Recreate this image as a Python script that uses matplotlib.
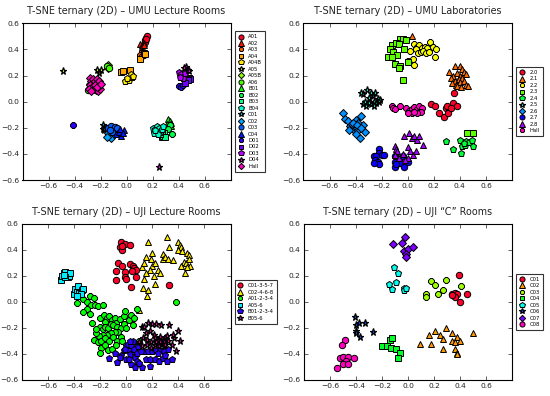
import matplotlib
matplotlib.use("Agg")
import matplotlib.pyplot as plt
import numpy as np

# ---------------- data ----------------
markers_cycle = ['o', '^', '8', 's', 'p', '*', 'D']

umu_lect_labels = ['A01', 'A02', 'A03', 'A04', 'A04B', 'A05', 'A05B', 'A06', 'B01', 'B02',
                   'B03', 'B04', 'C01', 'C02', 'C03', 'C04', 'D01', 'D02', 'D03', 'D04', 'Hall']
umu_lect_points = [
    [(0.15, 0.49), (0.155, 0.50), (0.145, 0.47), (0.14, 0.455), (0.15, 0.48)],
    [(0.10, 0.44), (0.115, 0.43), (0.13, 0.45), (0.12, 0.42), (0.135, 0.43)],
    [(0.12, 0.38), (0.14, 0.375), (0.10, 0.36), (0.135, 0.355), (0.115, 0.35)],
    [(0.10, 0.33), (0.13, 0.37), (0.145, 0.365), (-0.04, 0.23), (-0.03, 0.235), (0.025, 0.24)],
    [(-0.01, 0.16), (0.02, 0.165), (0.04, 0.19), (0.035, 0.215), (0.05, 0.20), (0.0, 0.18)],
    [(-0.49, 0.235), (-0.225, 0.245), (-0.21, 0.22), (-0.20, 0.24)],
    [(-0.145, 0.28), (-0.14, 0.26), (-0.28, 0.135)],
    [(-0.15, 0.27), (-0.135, 0.255), (-0.30, 0.09), (-0.25, 0.12)],
    [(0.32, -0.13), (0.33, -0.15), (0.345, -0.16), (0.34, -0.185), (0.31, -0.17), (0.30, -0.20)],
    [(0.35, -0.25), (0.335, -0.18), (0.32, -0.21)],
    [(0.27, -0.27), (0.28, -0.26), (0.29, -0.24), (0.27, -0.24), (0.295, -0.27), (0.26, -0.25)],
    [(0.20, -0.20), (0.22, -0.21), (0.24, -0.22), (0.21, -0.24), (0.23, -0.19), (0.25, -0.20),
     (0.26, -0.23), (0.24, -0.25), (0.27, -0.21), (0.215, -0.22), (0.28, -0.19)],
    [(-0.18, -0.18), (-0.185, -0.21), (-0.17, -0.22), (-0.16, -0.20), (-0.15, -0.23)],
    [(-0.14, -0.24), (-0.13, -0.26), (-0.12, -0.275), (-0.10, -0.25), (-0.15, -0.27)],
    [(-0.14, -0.20), (-0.12, -0.19), (-0.10, -0.21), (-0.08, -0.22), (-0.11, -0.23), (-0.09, -0.195),
     (-0.07, -0.20), (-0.13, -0.22), (-0.06, -0.24)],
    [(-0.08, -0.25), (-0.06, -0.23), (-0.04, -0.26), (-0.02, -0.22), (-0.05, -0.21), (-0.03, -0.24)],
    [(-0.41, -0.18), (0.40, 0.12), (0.42, 0.115), (0.43, 0.125)],
    [(0.48, 0.18), (0.49, 0.17), (0.47, 0.165), (0.45, 0.14)],
    [(0.40, 0.23), (0.42, 0.21), (0.44, 0.20), (0.43, 0.18), (0.41, 0.19), (0.45, 0.22)],
    [(0.25, -0.50), (0.455, 0.265), (0.47, 0.245), (0.44, 0.255), (0.48, 0.235)],
    [(-0.285, 0.18), (-0.27, 0.16), (-0.26, 0.17), (-0.25, 0.14), (-0.24, 0.155), (-0.23, 0.17),
     (-0.22, 0.15), (-0.21, 0.16), (-0.28, 0.13), (-0.265, 0.11), (-0.25, 0.10), (-0.235, 0.09),
     (-0.22, 0.085), (-0.205, 0.10), (-0.21, 0.12), (-0.29, 0.10), (-0.275, 0.085), (-0.245, 0.125),
     (-0.225, 0.115), (-0.20, 0.135)],
]

umu_lab_labels = ['2.0', '2.1', '2.2', '2.3', '2.4', '2.5', '2.6', '2.7', '2.8', 'Hall']
umu_lab_points = [
    [(0.18, -0.02), (0.21, -0.035), (0.24, -0.09), (0.28, -0.12), (0.29, -0.05), (0.32, -0.06),
     (0.31, -0.09), (0.345, -0.01), (0.38, -0.03), (0.355, 0.07), (0.30, -0.03), (0.33, -0.045)],
    [(0.03, 0.50), (0.36, 0.27), (0.40, 0.27), (0.42, 0.25), (0.43, 0.23), (0.45, 0.21), (0.32, 0.23),
     (0.35, 0.20), (0.38, 0.22), (0.40, 0.20), (0.33, 0.18), (0.36, 0.16), (0.39, 0.17), (0.42, 0.18),
     (0.34, 0.14), (0.37, 0.13), (0.40, 0.15), (0.43, 0.16), (0.45, 0.13), (0.46, 0.12), (0.38, 0.12),
     (0.41, 0.11)],
    [(0.05, 0.44), (0.07, 0.42), (0.09, 0.43), (0.11, 0.41), (0.13, 0.42), (0.15, 0.41), (0.17, 0.46),
     (0.19, 0.42), (0.22, 0.40), (0.06, 0.40), (0.08, 0.37), (0.10, 0.38), (0.12, 0.39), (0.14, 0.37),
     (0.16, 0.38), (0.02, 0.39), (0.21, 0.34), (0.045, 0.28), (0.0, 0.31), (0.04, 0.33)],
    [(-0.06, 0.48), (-0.04, 0.48), (-0.12, 0.43), (-0.09, 0.45), (-0.07, 0.44), (-0.14, 0.40),
     (-0.11, 0.38), (-0.08, 0.36), (-0.03, 0.40), (-0.15, 0.34), (-0.12, 0.34), (-0.10, 0.29),
     (-0.06, 0.27), (-0.065, 0.255), (-0.01, 0.47), (0.0, 0.30), (-0.035, 0.165), (0.455, -0.24),
     (0.50, -0.24)],
    [(0.29, -0.30), (0.35, -0.36), (0.40, -0.29), (0.42, -0.34), (0.44, -0.33), (0.45, -0.30),
     (0.47, -0.31), (0.49, -0.29), (0.50, -0.34), (0.41, -0.39), (0.43, -0.32)],
    [(-0.34, 0.06), (-0.31, 0.09), (-0.28, 0.07), (-0.27, 0.04), (-0.25, 0.07), (-0.23, 0.02),
     (-0.21, 0.01), (-0.22, 0.0), (-0.24, -0.01), (-0.26, 0.0), (-0.28, -0.02), (-0.30, -0.01),
     (-0.32, -0.03), (-0.34, -0.02), (-0.33, 0.0), (-0.30, 0.03), (-0.26, -0.03), (-0.36, 0.07)],
    [(-0.50, -0.09), (-0.48, -0.13), (-0.46, -0.15), (-0.44, -0.19), (-0.42, -0.21), (-0.40, -0.14),
     (-0.38, -0.16), (-0.36, -0.11), (-0.34, -0.18), (-0.33, -0.23), (-0.37, -0.28), (-0.41, -0.18),
     (-0.45, -0.22), (-0.43, -0.17), (-0.39, -0.20), (-0.38, -0.22), (-0.40, -0.25), (-0.42, -0.16),
     (-0.39, -0.18), (-0.36, -0.20)],
    [(-0.22, -0.36), (-0.22, -0.39), (-0.26, -0.42), (-0.24, -0.42), (-0.20, -0.41), (-0.18, -0.41),
     (-0.25, -0.45), (-0.23, -0.46), (-0.22, -0.48), (-0.26, -0.47), (-0.10, -0.42), (-0.08, -0.44),
     (-0.10, -0.46), (-0.07, -0.47), (-0.05, -0.47), (-0.10, -0.50), (-0.03, -0.50), (0.0, -0.46),
     (-0.04, -0.42), (-0.09, -0.48)],
    [(-0.03, -0.26), (0.01, -0.24), (0.03, -0.28), (0.05, -0.26), (0.07, -0.29), (0.09, -0.26),
     (0.12, -0.33), (-0.10, -0.34), (-0.09, -0.36), (-0.08, -0.38), (-0.10, -0.41), (-0.07, -0.43),
     (0.0, -0.35), (0.02, -0.38), (0.04, -0.41), (0.06, -0.38), (-0.04, -0.40), (0.0, -0.43),
     (-0.02, -0.45)],
    [(-0.12, -0.03), (-0.11, -0.05), (-0.10, -0.06), (-0.06, -0.035), (-0.01, -0.05), (0.01, -0.07),
     (0.03, -0.06), (0.05, -0.04), (0.07, -0.06), (0.09, -0.03), (0.11, -0.05), (0.10, -0.08),
     (0.07, -0.09), (0.03, -0.09), (0.0, -0.09), (0.05, -0.08)],
]

uji_lect_labels = ['C01-3-5-7', 'C02-4-6-8', 'A01-2-3-4', 'A05-6', 'B01-2-3-4', 'B05-6']
uji_lect_points = [
    [(-0.04, 0.46), (-0.01, 0.45), (0.03, 0.44), (-0.05, 0.42), (-0.03, 0.40), (-0.03, 0.43),
     (-0.065, 0.30), (-0.03, 0.28), (0.025, 0.29), (0.05, 0.28), (0.06, 0.26), (0.075, 0.25),
     (0.045, 0.24), (-0.075, 0.24), (-0.01, 0.23), (-0.075, 0.17), (-0.01, 0.19), (0.075, 0.19),
     (0.04, 0.115), (0.33, 0.13), (0.0, 0.18)],
    [(0.17, 0.46), (0.31, 0.50), (0.40, 0.46), (0.41, 0.44), (0.42, 0.42), (0.40, 0.40), (0.43, 0.39),
     (0.47, 0.38), (0.48, 0.36), (0.28, 0.37), (0.33, 0.42), (0.20, 0.38), (0.15, 0.35), (0.12, 0.27),
     (0.14, 0.30), (0.19, 0.33), (0.20, 0.28), (0.22, 0.30), (0.24, 0.25), (0.26, 0.22), (0.18, 0.25),
     (0.15, 0.22), (0.21, 0.20), (0.14, 0.18), (0.13, 0.11), (0.17, 0.09), (0.16, 0.05), (0.22, 0.14),
     (0.28, 0.33), (0.30, 0.35), (0.32, 0.33), (0.44, 0.31), (0.46, 0.30), (0.48, 0.33), (0.49, 0.28),
     (0.47, 0.27), (0.45, 0.22), (0.42, 0.28), (0.10, -0.06), (0.36, 0.32)],
    [(-0.38, -0.01), (-0.33, 0.02), (-0.30, 0.0), (-0.28, 0.05), (-0.25, 0.03), (-0.27, -0.02),
     (-0.24, -0.02), (-0.22, -0.03), (-0.30, -0.05), (-0.28, -0.09), (-0.33, -0.08), (-0.20, -0.12),
     (-0.17, -0.10), (-0.15, -0.12), (-0.16, -0.15), (-0.13, -0.11), (-0.11, -0.14), (-0.09, -0.12),
     (-0.08, -0.16), (-0.05, -0.13), (-0.02, -0.11), (0.02, -0.14), (0.04, -0.10), (0.06, -0.12),
     (-0.01, -0.07), (0.08, -0.05), (-0.18, -0.02), (-0.20, -0.19), (-0.18, -0.21), (-0.16, -0.19),
     (-0.14, -0.20), (-0.12, -0.17), (-0.10, -0.18), (-0.07, -0.19), (-0.04, -0.20), (-0.02, -0.17),
     (0.0, -0.20), (-0.06, -0.23), (-0.09, -0.23), (-0.12, -0.24), (-0.15, -0.25), (-0.18, -0.25),
     (-0.21, -0.26), (-0.23, -0.24), (-0.25, -0.29), (-0.22, -0.31), (-0.19, -0.30), (-0.16, -0.28),
     (-0.13, -0.30), (-0.10, -0.27), (-0.07, -0.30), (-0.04, -0.27), (0.05, -0.18), (-0.19, -0.35),
     (-0.16, -0.33), (-0.20, -0.39), (-0.14, -0.37), (-0.11, -0.36), (-0.08, -0.33), (0.10, -0.30),
     (0.38, 0.0), (-0.23, -0.21), (-0.26, -0.16), (0.05, -0.32), (-0.03, -0.30)],
    [(-0.50, 0.17), (-0.49, 0.20), (-0.48, 0.22), (-0.47, 0.23), (-0.46, 0.21), (-0.45, 0.19),
     (-0.44, 0.20), (-0.43, 0.22), (-0.47, 0.19), (-0.40, 0.06), (-0.39, 0.10), (-0.38, 0.08),
     (-0.37, 0.12), (-0.36, 0.07), (-0.34, 0.09), (-0.33, 0.10), (-0.35, 0.06), (-0.38, 0.05),
     (-0.48, 0.21)],
    [(-0.13, -0.43), (-0.09, -0.39), (-0.07, -0.46), (-0.04, -0.41), (-0.02, -0.37), (0.0, -0.34),
     (0.02, -0.36), (0.01, -0.32), (0.04, -0.33), (0.05, -0.30), (0.03, -0.40), (0.06, -0.38),
     (0.07, -0.42), (0.08, -0.45), (0.06, -0.36), (0.08, -0.39), (0.0, -0.44), (0.04, -0.48),
     (0.07, -0.50), (0.12, -0.50), (0.18, -0.49), (0.15, -0.44), (0.18, -0.44), (0.22, -0.44),
     (0.25, -0.45), (0.28, -0.43), (0.31, -0.45), (0.35, -0.44), (0.14, -0.38), (0.17, -0.38),
     (0.20, -0.38), (0.23, -0.37), (0.26, -0.37), (0.29, -0.38), (0.32, -0.36), (0.11, -0.38),
     (0.09, -0.34), (-0.01, -0.36), (0.02, -0.44), (0.30, -0.41), (0.24, -0.39), (-0.05, -0.42),
     (0.03, -0.30), (0.10, -0.47)],
    [(0.12, -0.19), (0.14, -0.19), (0.17, -0.16), (0.20, -0.17), (0.23, -0.17), (0.27, -0.18),
     (0.33, -0.18), (0.40, -0.22), (0.15, -0.24), (0.18, -0.22), (0.21, -0.25), (0.13, -0.28),
     (0.16, -0.29), (0.19, -0.31), (0.22, -0.28), (0.24, -0.30), (0.26, -0.27), (0.28, -0.30),
     (0.27, -0.32), (0.29, -0.34), (0.30, -0.28), (0.25, -0.34), (0.22, -0.33), (0.19, -0.35),
     (0.16, -0.33), (0.32, -0.30), (0.35, -0.33), (0.37, -0.28), (0.41, -0.30), (0.38, -0.38),
     (0.36, -0.25), (0.31, -0.26), (0.29, -0.31), (0.23, -0.31), (0.10, -0.31), (0.12, -0.34),
     (0.30, -0.33), (0.26, -0.31)],
]

uji_c_labels = ['C01', 'C02', 'C03', 'C04', 'C05', 'C06', 'C07', 'C08']
uji_c_points = [
    [(0.39, 0.205), (0.34, 0.06), (0.36, 0.07), (0.375, 0.06), (0.36, 0.04), (0.455, 0.06),
     (0.40, 0.0), (0.335, 0.055)],
    [(0.095, -0.325), (0.16, -0.25), (0.21, -0.22), (0.175, -0.32), (0.245, -0.255), (0.27, -0.285),
     (0.295, -0.20), (0.335, -0.235), (0.335, -0.30), (0.375, -0.27), (0.36, -0.31), (0.40, -0.30),
     (0.36, -0.365), (0.375, -0.39), (0.27, -0.365), (0.50, -0.235), (0.38, -0.40)],
    [(0.175, 0.16), (0.205, 0.13), (0.135, 0.065), (0.135, 0.035), (0.23, 0.065), (0.27, 0.09),
     (0.295, 0.17), (0.41, 0.125)],
    [(-0.20, -0.335), (-0.135, -0.29), (-0.16, -0.335), (-0.13, -0.35), (-0.095, -0.365),
     (-0.065, -0.39), (-0.075, -0.43), (-0.125, -0.28)],
    [(-0.105, 0.27), (-0.075, 0.22), (-0.15, 0.14), (-0.12, 0.10), (-0.09, 0.155), (-0.03, 0.105),
     (-0.03, 0.095), (-0.015, 0.11)],
    [(-0.41, -0.115), (-0.40, -0.18), (-0.38, -0.16), (-0.33, -0.165), (-0.40, -0.22), (-0.40, -0.235),
     (-0.37, -0.27), (-0.27, -0.23)],
    [(-0.115, 0.45), (-0.05, 0.455), (-0.02, 0.50), (-0.03, 0.39), (0.0, 0.41), (0.035, 0.425),
     (-0.015, 0.37), (-0.015, 0.35)],
    [(-0.485, -0.29), (-0.51, -0.33), (-0.52, -0.43), (-0.50, -0.42), (-0.465, -0.42), (-0.475, -0.45),
     (-0.50, -0.48), (-0.46, -0.48), (-0.415, -0.43), (-0.545, -0.505)],
]

titles = ['T-SNE ternary (2D) \u2013 UMU Lecture Rooms',
          'T-SNE ternary (2D) \u2013 UMU Laboratories',
          'T-SNE ternary (2D) \u2013 UJI Lecture Rooms',
          'T-SNE ternary (2D) \u2013 UJI \u201cC\u201d Rooms']

# ---------------- figure ----------------
W, H = 550, 396
fig = plt.figure(figsize=(W / 100, H / 100), dpi=100)
plt.rcParams['font.family'] = ['DejaVu Sans']

boxes = [(22.5, 23.3, 230.7, 180), (303.5, 23.3, 512, 180),
         (22, 224, 230.5, 380), (304, 224, 512, 380)]
panels = [(umu_lect_labels, umu_lect_points), (umu_lab_labels, umu_lab_points),
          (uji_lect_labels, uji_lect_points), (uji_c_labels, uji_c_points)]

marker_sizes = {'o': 4.6, '^': 4.6, '8': 4.6, 's': 4.3, 'p': 4.8, '*': 5.2, 'D': 4.0}
marker_edge = {'*': 0.9}

cmap = plt.get_cmap('gist_rainbow')
for (x0, y0, x1, y1), (labels, points), title in zip(boxes, panels, titles):
    ax = fig.add_axes([x0 / W, 1 - y1 / H, (x1 - x0) / W, (y1 - y0) / H])
    n = len(labels)
    for i, (lab, pts) in enumerate(zip(labels, points)):
        arr = np.array(pts)
        m = markers_cycle[i % len(markers_cycle)]
        ax.plot(arr[:, 0], arr[:, 1], linestyle='none', marker=m, ms=marker_sizes[m],
                markerfacecolor=cmap(i / (n - 1)), markeredgecolor='k',
                markeredgewidth=marker_edge.get(m, 0.7), label=lab)
    ax.set_xlim(-0.8, 0.8)
    ax.set_ylim(-0.6, 0.6)
    ax.set_xticks(np.arange(-0.6, 0.61, 0.2))
    ax.set_yticks(np.arange(-0.6, 0.61, 0.2))
    ax.tick_params(direction='in', top=True, right=True, labelsize=5.4, length=3,
                   width=0.5, pad=2.5, colors='#222222', labelcolor='#222222')
    for s in ax.spines.values():
        s.set_linewidth(0.8)
    ax.set_title(title, fontsize=6.9, pad=6.5, color='#222222')
    leg = ax.legend(loc='center left', bbox_to_anchor=(1.02, 0.5), numpoints=1,
                    fontsize=3.8, labelspacing=0.28, handlelength=1.0, handletextpad=0.9,
                    borderpad=0.6, markerscale=0.8, fancybox=False, borderaxespad=0)
    leg.get_frame().set_edgecolor('k')
    leg.get_frame().set_linewidth(0.8)

fig.savefig('out.png', dpi=100)
